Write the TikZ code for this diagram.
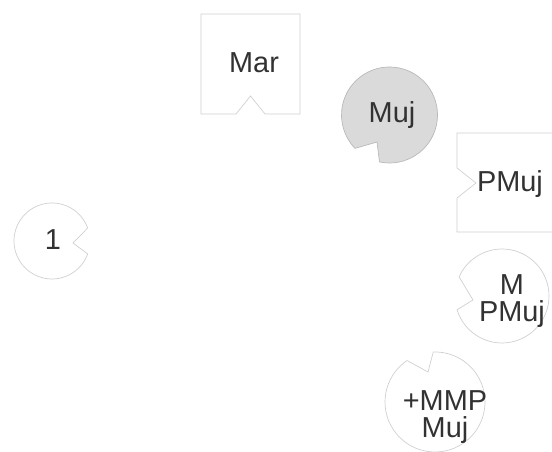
\documentclass[tikz,border=0pt]{standalone}
\usepackage{fontspec}
\setmainfont{Liberation Sans}
\usetikzlibrary{calc}
\definecolor{pzLine}{RGB}{208,208,208}
\definecolor{pzEdge}{RGB}{185,185,185}
\definecolor{pzFill}{RGB}{218,218,218}
\definecolor{pzText}{RGB}{50,50,50}

\begin{document}
\begin{tikzpicture}[x=1bp,y=1bp,
  piece/.style={draw=pzLine,line width=0.7pt},
  gpiece/.style={piece,fill=pzFill,draw=pzEdge},
  lbl/.style={text=pzText,font=\fontsize{29}{27.5}\selectfont,align=center,
              anchor=base,inner sep=0pt}
]
\useasboundingbox (0,0) rectangle (552,452);
% boxes with a notch
\draw[piece] (201,338) -- (236,338) -- (250.5,356) -- (265,338) -- (300,338)
   -- (300,438) -- (201,438) -- cycle;
\draw[piece] (457,220) -- (457,254) -- (476,269) -- (457,284) -- (457,319)
   -- (560,319) -- (560,220) -- cycle;
% round pieces with a notch
\draw[piece] (52,211) ++(20:38) arc[start angle=20,end angle=340,radius=38]
   -- (73,209) -- cycle;
\draw[gpiece] (389.5,337) ++(258:48) arc[start angle=258,end angle=584,radius=48]
   -- (377,310) -- cycle;
\draw[piece] (502,156) ++(197:47) arc[start angle=197,end angle=516,radius=47]
   -- (473,152) -- cycle;
\draw[piece] (435,50) ++(124:50) arc[start angle=124,end angle=452,radius=50]
   -- (428,80) -- cycle;
% labels (base = last line)
\node[lbl] (mar) at (254,379) {Mar};
\node[lbl] (muj) at (392,329) {Muj};
\node[lbl] (pmuj) at (510,260) {PMuj};
\node[lbl] (one) at (53,202) {1};
\node[lbl] (mpmuj) at (512,130) {M\\PMuj};
\node[lbl] (mmpmuj) at (445,14) {+MMP\\Muj};
\end{tikzpicture}
\end{document}
